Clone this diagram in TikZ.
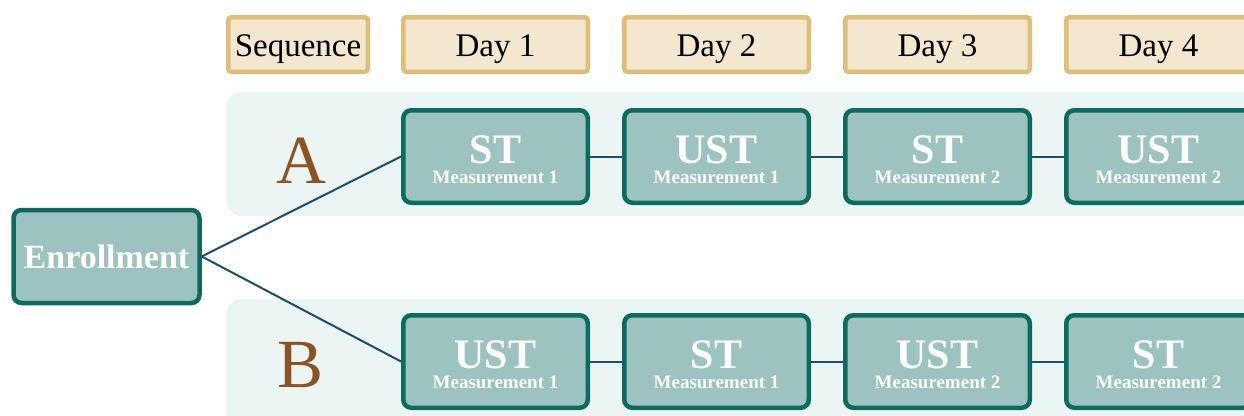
\documentclass[tikz,border=0pt]{standalone}
\usepackage{fontspec}
\setmainfont{Liberation Serif}
\definecolor{boxfill}{HTML}{9CC3BF}
\definecolor{boxline}{HTML}{0B6B5F}
\definecolor{bandfill}{HTML}{EBF5F3}
\definecolor{headfill}{HTML}{F3E8CF}
\definecolor{headline}{HTML}{DFBF78}
\definecolor{linkcol}{HTML}{1C4D6B}
\definecolor{lettercol}{HTML}{8B5424}
\newcommand\mkbox[5]{%
  \node[mbox] (#1) at (#2,#3) {};
  \node[bigt] (#1-t) at ([yshift=-6.5pt]#1.center) {#4};
  \node[smallt] (#1-m) at ([yshift=-26.5pt]#1.center) {#5};
}
\begin{document}
\begin{tikzpicture}[x=1pt,y=-1pt,
  band/.style={fill=bandfill, rounded corners=16pt},
  head/.style={draw=headline, fill=headfill, line width=4.5pt, rounded corners=3pt,
    minimum width=184.5pt, minimum height=54.5pt, inner sep=0pt,
    font=\fontsize{33}{33}\selectfont, text height=23pt, text depth=0pt},
  mbox/.style={draw=boxline, fill=boxfill, line width=4.5pt, rounded corners=8pt,
    minimum width=184.5pt, minimum height=92.5pt, inner sep=0pt},
  bigt/.style={anchor=base, inner sep=0pt, text=white, font=\fontsize{42}{42}\selectfont\bfseries},
  smallt/.style={anchor=base, inner sep=0pt, text=white, font=\fontsize{19}{19}\selectfont\bfseries},
  letter/.style={anchor=base, inner sep=0pt, text=lettercol, font=\fontsize{69}{69}\selectfont},
  link/.style={draw=linkcol, line width=2pt}
]
\useasboundingbox (0,0) rectangle (1244,415);
\clip (0,0) rectangle (1244,415);
% bands
\fill[band] (226,92) rectangle (1280,216);
\fill[band] (226,299) rectangle (1280,440);
% headers
\node[head, minimum width=139.5pt] (hseq) at (298,44.5) {Sequence};
\node[head] (hd1) at (495.5,44.5) {Day 1};
\node[head] (hd2) at (716.5,44.5) {Day 2};
\node[head] (hd3) at (937.5,44.5) {Day 3};
\node[head] (hd4) at (1158.5,44.5) {Day 4};
% letters
\node[letter] (la) at (301,183) {A};
\node[letter] (lb) at (301,387) {B};
% enrollment
\node[mbox, minimum width=186pt, minimum height=93pt, text=white,
  font=\fontsize{34}{34}\selectfont\bfseries] (enr) at (106.5,256.5) {Enrollment};
% boxes
\mkbox{a1}{495.5}{156.5}{ST}{Measurement 1}
\mkbox{a2}{716.5}{156.5}{UST}{Measurement 1}
\mkbox{a3}{937.5}{156.5}{ST}{Measurement 2}
\mkbox{a4}{1158.5}{156.5}{UST}{Measurement 2}
\mkbox{b1}{495.5}{361.5}{UST}{Measurement 1}
\mkbox{b2}{716.5}{361.5}{ST}{Measurement 1}
\mkbox{b3}{937.5}{361.5}{UST}{Measurement 2}
\mkbox{b4}{1158.5}{361.5}{ST}{Measurement 2}
% links
\draw[link] (enr.east) -- (a1.west);
\draw[link] (enr.east) -- (b1.west);
\draw[link] (a1.east) -- (a2.west);
\draw[link] (a2.east) -- (a3.west);
\draw[link] (a3.east) -- (a4.west);
\draw[link] (b1.east) -- (b2.west);
\draw[link] (b2.east) -- (b3.west);
\draw[link] (b3.east) -- (b4.west);
\end{tikzpicture}
\end{document}
